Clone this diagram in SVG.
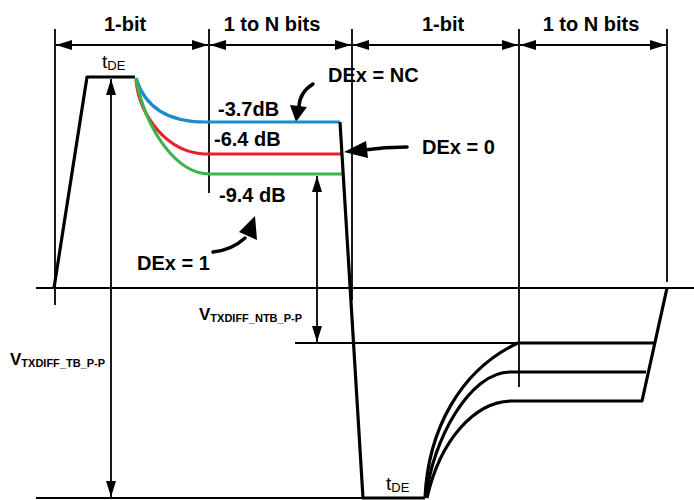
<svg xmlns="http://www.w3.org/2000/svg" width="694" height="500" viewBox="0 0 694 500">
<defs>
<marker id="ah" markerUnits="userSpaceOnUse" markerWidth="16" markerHeight="10" viewBox="0 0 16 10" refX="16" refY="5" orient="auto-start-reverse">
<path d="M0,0 L16,5 L0,10 Z" fill="#000"/>
</marker>
</defs>
<style>
.thin{stroke:#000;stroke-width:1.8;fill:none}
.dim{stroke:#000;stroke-width:1.8;fill:none;marker-start:url(#ah);marker-end:url(#ah)}
.thick{stroke:#000;stroke-width:3.2;fill:none;stroke-linejoin:round}
.col{stroke-width:3.2;fill:none}
.lbl{font-family:"Liberation Sans",Arial,sans-serif;font-weight:bold;font-size:20px;fill:#000}
.small{font-family:"Liberation Sans",Arial,sans-serif;fill:#000}
.arr{stroke:#000;stroke-width:3.5;fill:none;stroke-linecap:round}
</style>
<rect width="694" height="500" fill="#fff"/>

<g id="grid">
<line class="thin" x1="55" y1="29" x2="55" y2="305"/>
<line class="thin" x1="209" y1="29" x2="209" y2="193"/>
<line class="thin" x1="352" y1="29" x2="352" y2="300"/>
<line class="thin" x1="519" y1="29" x2="519" y2="387"/>
<line class="thin" x1="667" y1="29" x2="667" y2="282"/>
<line class="thin" x1="36" y1="288" x2="694" y2="288"/>
<line class="thin" x1="36" y1="498" x2="364" y2="498"/>
<line class="thin" x1="295" y1="343" x2="518" y2="343"/>
</g>

<g id="connectors">
<line class="dim" x1="56" y1="45" x2="208" y2="45"/>
<line class="dim" x1="210" y1="45" x2="351" y2="45"/>
<line class="dim" x1="353" y1="45" x2="518" y2="45"/>
<line class="dim" x1="520" y1="45" x2="666" y2="45"/>
<line class="dim" x1="111" y1="79" x2="111" y2="497"/>
<line class="dim" x1="317" y1="176" x2="317" y2="342"/>
<path class="arr" d="M313,84 Q300,92 299,106"/>
<polygon points="290,105 307,107 296,122" fill="#000"/>
<path class="arr" d="M407,147 Q385,147 364,150"/>
<polygon points="366,141 368,158 344,152" fill="#000"/>
<path class="arr" d="M213,252 Q232,250 245,238"/>
<polygon points="239,232 257,240 255,216" fill="#000"/>
</g>

<g id="waveform">
<polyline class="thick" points="54,288 87,77 135,77"/>
<path class="col" stroke="#1b8ccf" d="M136,78 C145,108 168,122 205,122 L340,122"/>
<path class="col" stroke="#e8212b" d="M136,80 C140,118 168,152 204,154 L341,154"/>
<path class="col" stroke="#3cb44b" d="M136,79 C146,130 176,174 210,174 L343,174"/>
<polyline class="thick" points="340,122 363,498 425,498"/>
<path class="thick" d="M425,498 C428,430 460,370 518,343 L654,343"/>
<path class="thick" d="M426,498 C432,440 470,372 510,372 L646,372"/>
<path class="thick" d="M427,498 C440,440 475,401 512,401 L642,401 L667,288"/>
</g>

<g id="labels">
<text class="lbl" x="125" y="31" text-anchor="middle">1-bit</text>
<text class="lbl" x="272" y="31" text-anchor="middle">1 to N bits</text>
<text class="lbl" x="443" y="31" text-anchor="middle">1-bit</text>
<text class="lbl" x="591" y="31" text-anchor="middle">1 to N bits</text>
<text class="lbl" x="218" y="116">-3.7dB</text>
<text class="lbl" x="214" y="146">-6.4 dB</text>
<text class="lbl" x="219" y="202">-9.4 dB</text>
<text class="lbl" x="328" y="82">DEx = NC</text>
<text class="lbl" x="422" y="154">DEx = 0</text>
<text class="lbl" x="137" y="270">DEx = 1</text>
<text class="small" x="102" y="68" font-size="19">t<tspan font-size="13" dy="2">DE</tspan></text>
<text class="small" x="386" y="490" font-size="19">t<tspan font-size="13" dy="2">DE</tspan></text>
<text class="small" x="199" y="320" font-size="17" font-weight="bold">V<tspan font-size="11" dy="2">TXDIFF_NTB_P-P</tspan></text>
<text class="small" x="10" y="365" font-size="17" font-weight="bold">V<tspan font-size="11" dy="2">TXDIFF_TB_P-P</tspan></text>
</g>
</svg>
